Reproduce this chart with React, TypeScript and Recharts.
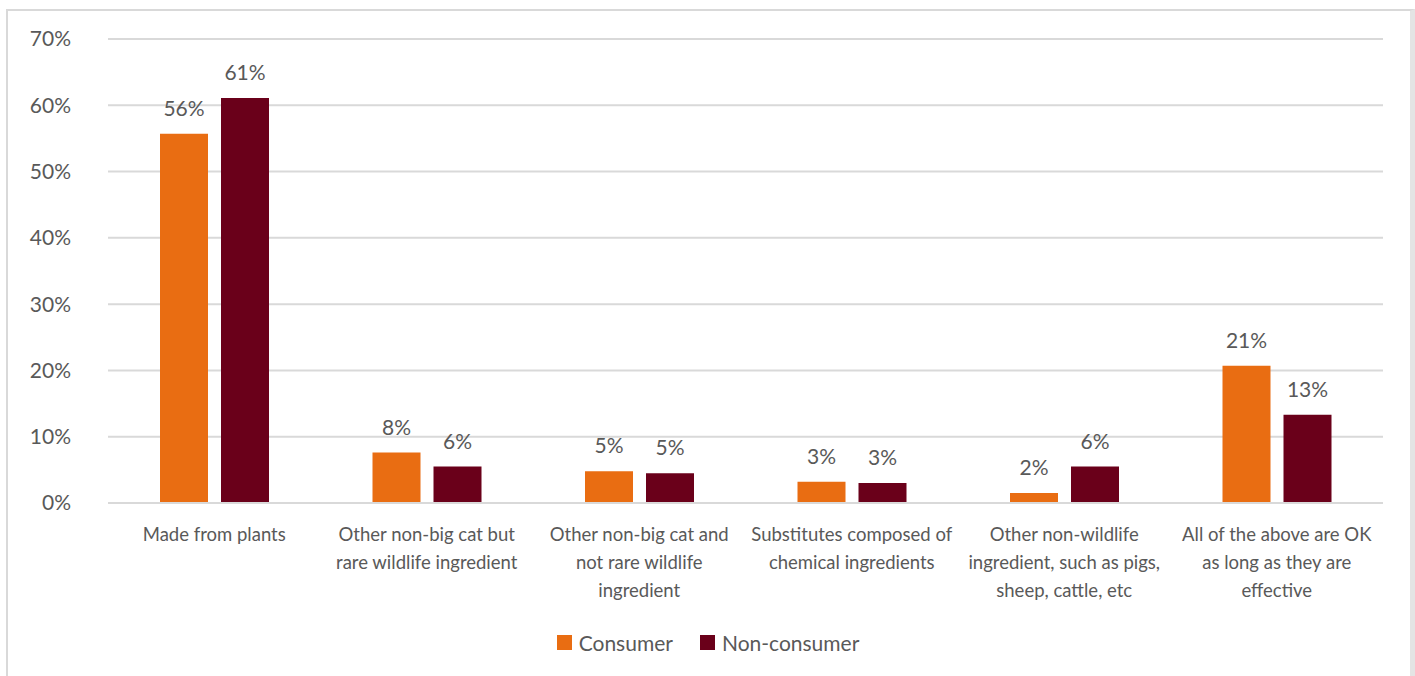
import React from 'react';
import { BarChart, Bar, XAxis, YAxis, CartesianGrid, Legend, LabelList } from 'recharts';

const categories = [
  'Made from plants',
  'Other non-big cat but\nrare wildlife ingredient',
  'Other non-big cat and\nnot rare wildlife\ningredient',
  'Substitutes composed of\nchemical ingredients',
  'Other non-wildlife\ningredient, such as pigs,\nsheep, cattle, etc',
  'All of the above are OK\nas long as they are\neffective',
];
const consumer = [55.7, 7.6, 4.8, 3.2, 1.5, 20.7];
const nonConsumer = [61.1, 5.5, 4.5, 3.0, 5.5, 13.3];
const yTicks = [0, 10, 20, 30, 40, 50, 60, 70];

const data = categories.map((c, i) => ({ name: c, consumer: consumer[i], nonConsumer: nonConsumer[i] }));

const FONT = 'Lato, "Open Sans", sans-serif';
const TEXT = '#595959';
const ORANGE = '#E96D12';
const DARK = '#6A001A';

const XTick = (props: any) => {
  const { x, y, payload } = props;
  const lines = String(payload.value).split('\n');
  return (
    <text x={x} y={y} textAnchor="middle" fill={TEXT} fontFamily={FONT} fontSize={18.5}>
      {lines.map((l, i) => (
        <tspan key={i} x={x} dy={i === 0 ? 30 : 28}>{l}</tspan>
      ))}
    </text>
  );
};

const LegendContent = () => (
  <div style={{ display: 'flex', justifyContent: 'center', alignItems: 'center', fontFamily: FONT, fontSize: 21, color: TEXT }}>
    <span style={{ display: 'inline-block', width: 15, height: 15, background: ORANGE, marginRight: 7 }} />
    <span style={{ marginRight: 27 }}>Consumer</span>
    <span style={{ display: 'inline-block', width: 15, height: 15, background: DARK, marginRight: 7 }} />
    <span>Non-consumer</span>
  </div>
);

export default function App() {
  return (
    <div style={{ position: 'absolute', left: 6, top: 9, width: 1402, height: 700, borderTop: '2px solid #d9d9d9', borderLeft: '2px solid #d9d9d9', borderRight: '5px solid #e4e4e4', background: '#fff' }}>
      <BarChart width={1400} height={680} data={data} margin={{ top: 28, right: 25, left: 0, bottom: 38 }} barGap={13}>
        <CartesianGrid vertical={false} stroke="#d9d9d9" strokeWidth={2} />
        <XAxis dataKey="name" axisLine={{ stroke: '#d9d9d9', strokeWidth: 2 }} tickLine={false} tick={<XTick />} height={150} interval={0} />
        <YAxis domain={[0, 70]} ticks={yTicks} tickFormatter={(v) => `${v}%`} axisLine={false} tickLine={false} width={100}
          tickMargin={31} tick={{ fill: TEXT, fontFamily: FONT, fontSize: 21 }} />
        <Legend layout="horizontal" verticalAlign="middle" align="center" content={<LegendContent />}
          wrapperStyle={{ top: 619, left: 0, width: 1400 }} />
        <Bar dataKey="consumer" name="Consumer" fill={ORANGE} barSize={48} isAnimationActive={false}>
          <LabelList dataKey="consumer" position="top" offset={18} formatter={(v: any) => `${Math.round(v)}%`}
            style={{ fill: TEXT, fontFamily: FONT, fontSize: 21 }} />
        </Bar>
        <Bar dataKey="nonConsumer" name="Non-consumer" fill={DARK} barSize={48} isAnimationActive={false}>
          <LabelList dataKey="nonConsumer" position="top" offset={18} formatter={(v: any) => `${Math.round(v)}%`}
            style={{ fill: TEXT, fontFamily: FONT, fontSize: 21 }} />
        </Bar>
      </BarChart>
    </div>
  );
}
